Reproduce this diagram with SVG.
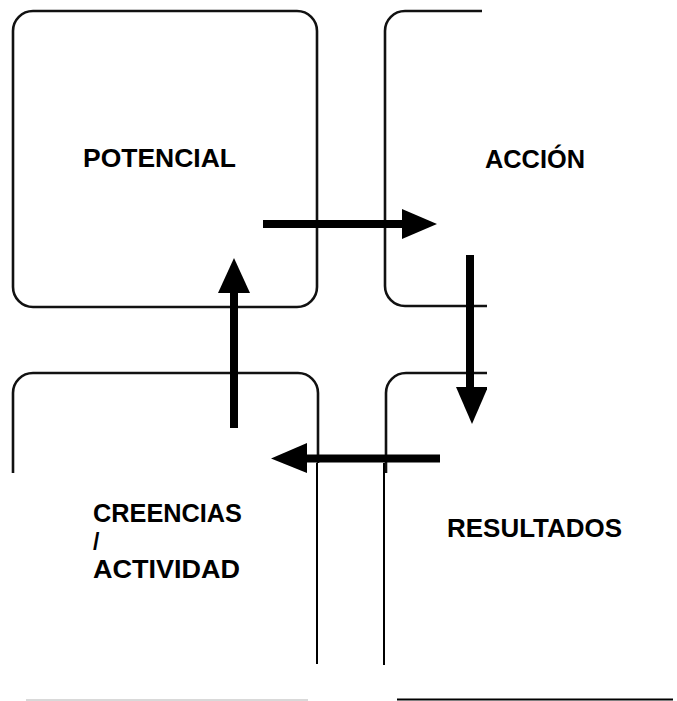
<svg xmlns="http://www.w3.org/2000/svg" width="677" height="701" viewBox="0 0 677 701">
<defs>
<style>
.box{fill:none;stroke:#111;stroke-width:2.6;stroke-linejoin:round}
.thin{fill:none;stroke:#000;stroke-width:2}
.shaft{fill:none;stroke:#000;stroke-width:8}
.head{fill:#000;stroke:none}
.lbl{font-family:"Liberation Sans",Arial,sans-serif;font-weight:bold;font-size:26px;fill:#000}
</style>
<clipPath id="scan"><rect x="0" y="0" width="487" height="701"/></clipPath>
</defs>
<rect width="677" height="701" fill="#fff"/>
<g id="node-potencial">
<rect class="box" x="13" y="11" width="304" height="296" rx="20"/>
<text class="lbl" x="83" y="167" textLength="153" lengthAdjust="spacingAndGlyphs">POTENCIAL</text>
</g>
<g id="node-accion">
<path class="box" clip-path="url(#scan)" d="M482,11 H405 A20,20 0 0 0 385,31 V286 A20,20 0 0 0 405,306 H487"/>
<text class="lbl" x="485" y="168" textLength="100" lengthAdjust="spacingAndGlyphs">ACCIÓN</text>
</g>
<g id="node-creencias">
<path class="box" d="M13,473 V393 A20,20 0 0 1 33,373 H298 A20,20 0 0 1 318,393 V463"/>
<line class="thin" x1="317" y1="463" x2="317" y2="664"/>
<text class="lbl" x="93" y="522" textLength="149" lengthAdjust="spacingAndGlyphs">CREENCIAS</text>
<text class="lbl" x="93" y="550" style="font-size:23px">/</text>
<text class="lbl" x="93" y="578" textLength="147" lengthAdjust="spacingAndGlyphs">ACTIVIDAD</text>
<line x1="26" y1="700" x2="308" y2="700" stroke="#ccc" stroke-width="1.5"/>
</g>
<g id="node-resultados">
<path class="box" clip-path="url(#scan)" d="M386,473 V393 A20,20 0 0 1 406,373 H487"/>
<line class="thin" x1="384" y1="463" x2="384" y2="665"/>
<text class="lbl" x="447" y="537" textLength="175" lengthAdjust="spacingAndGlyphs">RESULTADOS</text>
<line x1="397" y1="699.5" x2="673" y2="699.5" stroke="#000" stroke-width="2"/>
</g>
<g id="connectors" clip-path="url(#scan)">
<line class="shaft" x1="263" y1="224" x2="404" y2="224"/>
<polygon class="head" points="402,209 402,239 437,224"/>
<line class="shaft" x1="470" y1="255" x2="470" y2="389"/>
<polygon class="head" points="456,387 488,387 472,424"/>
<line class="shaft" x1="440" y1="458.5" x2="305" y2="458.5"/>
<polygon class="head" points="307,443 307,473 271,458.5"/>
<line class="shaft" x1="234" y1="428" x2="234" y2="291"/>
<polygon class="head" points="218,293 250,293 234,258"/>
</g>
</svg>
